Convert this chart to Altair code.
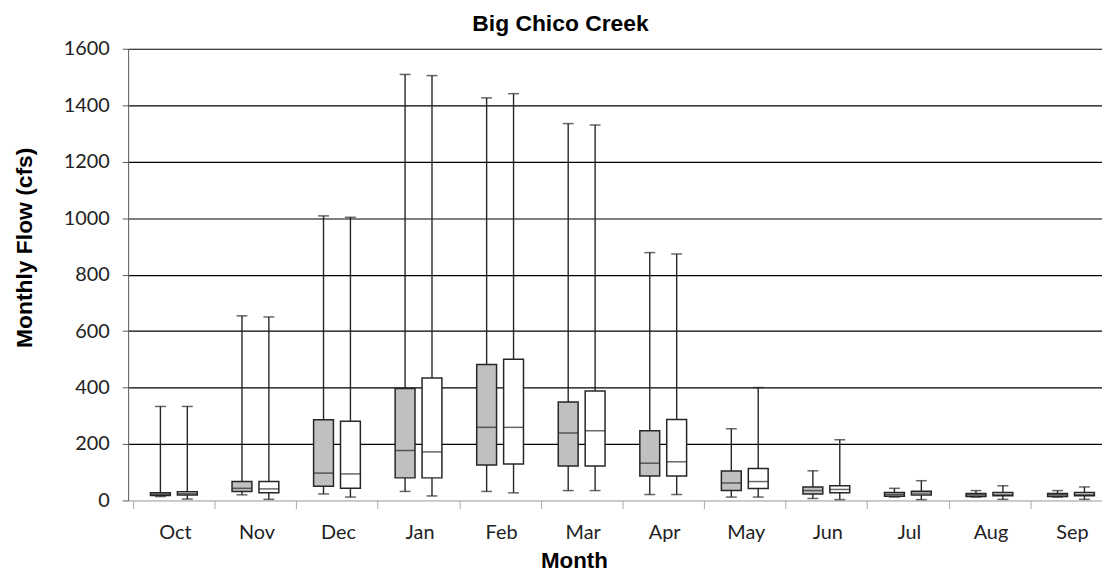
import altair as alt
import pandas as pd

months = ["Oct", "Nov", "Dec", "Jan", "Feb", "Mar", "Apr", "May", "Jun", "Jul", "Aug", "Sep"]
series_names = ["Series A", "Series B"]

# Series A (gray boxes)
a_min = [14, 20, 23, 32, 32, 35, 21, 12, 7, 12, 12, 12]
a_q1 = [18, 32, 50, 80, 126, 122, 87, 35, 23, 15, 14, 14]
a_med = [22, 43, 97, 177, 259, 239, 132, 62, 35, 21, 20, 20]
a_q3 = [27, 67, 286, 397, 482, 349, 247, 104, 48, 28, 25, 25]
a_max = [333, 654, 1008, 1509, 1426, 1335, 878, 254, 105, 43, 35, 35]

# Series B (white boxes)
b_min = [5, 4, 12, 16, 27, 35, 21, 12, 3, 3, 4, 4]
b_q1 = [19, 27, 43, 80, 129, 122, 87, 42, 27, 19, 17, 17]
b_med = [24, 41, 94, 172, 259, 247, 137, 67, 39, 26, 21, 21]
b_q3 = [31, 67, 281, 434, 500, 388, 287, 113, 52, 33, 28, 28]
b_max = [333, 650, 1003, 1505, 1441, 1330, 873, 400, 215, 70, 52, 48]

y_ticks = [0, 200, 400, 600, 800, 1000, 1200, 1400, 1600]

rows = []
for s, (mn, q1, md, q3, mx) in zip(series_names, [(a_min, a_q1, a_med, a_q3, a_max),
                                                  (b_min, b_q1, b_med, b_q3, b_max)]):
    for i, m in enumerate(months):
        rows.append({"month": m, "idx": i, "series": s, "min": mn[i], "q1": q1[i],
                     "med": md[i], "q3": q3[i], "max": mx[i]})
df = pd.DataFrame(rows)

PLOT_W = 981
BAND = 83.0
DOMAIN_MAX = PLOT_W / BAND
STROKE = "#262626"

label_list = "[" + ",".join("'" + m + "'" for m in months) + "]"
x_vals = [i * 0.5 for i in range(0, 24)]
label_expr = "(datum.value % 1) === 0.5 ? " + label_list + "[floor(datum.value)] : ''"

x_axis = alt.Axis(
    values=x_vals,
    labelExpr=label_expr,
    tickOpacity={"condition": {"test": "(datum.value % 1) === 0", "value": 1}, "value": 0},
    grid=False,
    labelOverlap=False,
    labelFlush=False,
    labelBound=False,
    labelFont="Lato",
    labelFontSize=20,
    labelColor="#222222",
    labelPadding=14,
    labelOffset=1,
    tickSize=8,
    tickColor="#a6a6a6",
    domainColor="#bfbfbf",
    title="Month",
    titleFont="Liberation Sans",
    titleFontWeight="bold",
    titleFontSize=22.5,
    titleColor="#000000",
    titleX=449,
    titleY=68,
    titleBaseline="alphabetic",
    titleAlign="center",
)

y_axis = alt.Axis(
    values=y_ticks,
    format="d",
    grid=True,
    gridColor={"condition": {"test": "datum.value === 0", "value": "#bfbfbf"}, "value": "#000000"},
    gridWidth=1.2,
    labelFont="Lato",
    labelFontSize=20,
    labelColor="#222222",
    labelPadding=13,
    tickSize=6,
    tickColor="#595959",
    domainColor="#595959",
    title="Monthly Flow (cfs)",
    titleFont="Liberation Sans",
    titleFontWeight="bold",
    titleFontSize=23,
    titleColor="#000000",
    titleAngle=270,
    titleX=-97,
    titleY=200,
    titleAlign="center",
    titleBaseline="alphabetic",
)

x_enc = alt.X("pos:Q", scale=alt.Scale(domain=[0, DOMAIN_MAX], nice=False, zero=False), axis=x_axis)
y_scale = alt.Scale(domain=[0, 1600], nice=False)

base = alt.Chart(df).transform_calculate(
    pos="datum.idx + 0.5 + (datum.series === 'Series A' ? -0.165 : 0.165)"
)

whisker = base.mark_rule(color=STROKE, strokeWidth=1.4).encode(
    x=x_enc,
    y=alt.Y("min:Q", scale=y_scale, axis=y_axis),
    y2="max:Q",
)
cap_low = base.mark_tick(color=STROKE, thickness=1.5, size=11, orient="horizontal").encode(
    x=x_enc, y=alt.Y("min:Q", scale=y_scale, axis=y_axis)
)
cap_high = base.mark_tick(color=STROKE, thickness=1.5, size=11, orient="horizontal").encode(
    x=x_enc, y=alt.Y("max:Q", scale=y_scale, axis=y_axis)
)
box = base.mark_bar(size=20, stroke=STROKE, strokeWidth=1.5).encode(
    x=x_enc,
    y=alt.Y("q1:Q", scale=y_scale, axis=y_axis),
    y2="q3:Q",
    fill=alt.Fill("series:N", scale=alt.Scale(domain=series_names, range=["#c0c0c0", "#ffffff"]), legend=None),
)
median = base.mark_tick(color=STROKE, thickness=1.5, size=20, orient="horizontal").encode(
    x=x_enc, y=alt.Y("med:Q", scale=y_scale, axis=y_axis)
)

chart = alt.layer(whisker, cap_low, cap_high, box, median).properties(
    width=PLOT_W,
    height=455,
    background="white",
    padding={"left": 121, "top": 39, "right": 0, "bottom": 71},
    autosize=alt.AutoSizeParams(type="none"),
    title=alt.TitleParams(
        "Big Chico Creek",
        font="Liberation Sans",
        fontWeight="bold",
        fontSize=23,
        color="#000000",
        anchor="middle",
        dx=-55,
        dy=26,
        offset=11,
        baseline="alphabetic",
    ),
).configure_view(strokeWidth=0)

chart.save("out.html", embed_options={"renderer": "svg", "actions": False})
